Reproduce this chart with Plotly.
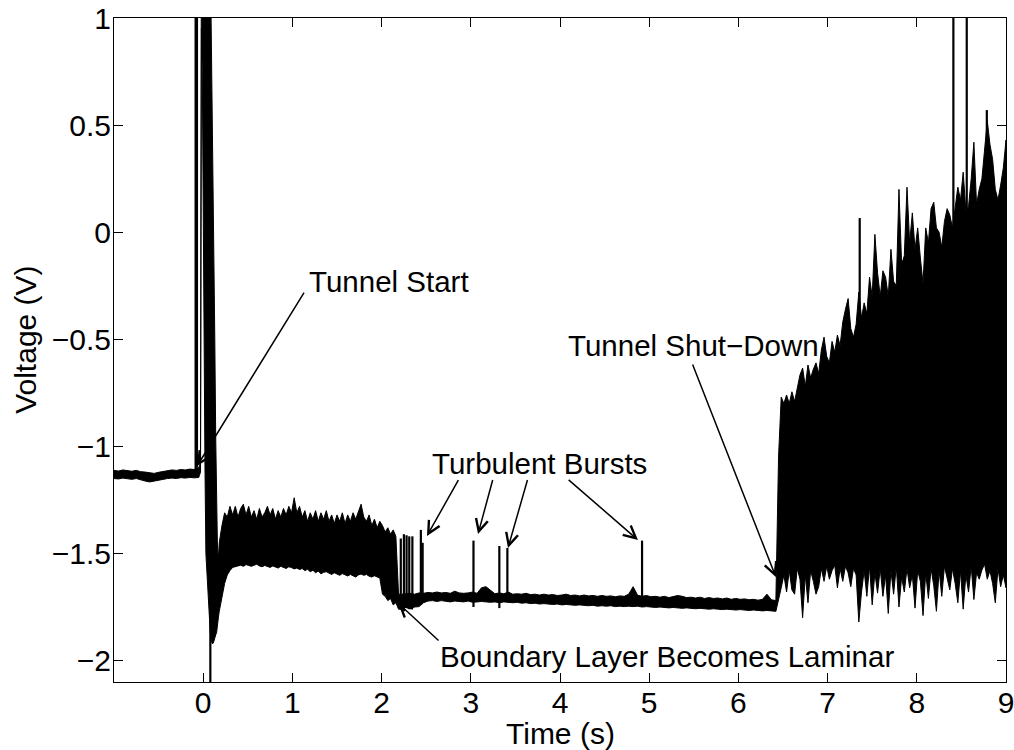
import numpy as np
import plotly.graph_objects as go

# ---------------- data ----------------
# pre-run (flat) segment, -1.00 .. -0.10 s
pre_hi = [-1.112, -1.115, -1.110, -1.113, -1.116, -1.112, -1.118, -1.120, -1.124, -1.126,
          -1.121, -1.117, -1.113, -1.110, -1.112, -1.108, -1.110, -1.106, -1.108]
pre_lo = [-1.150, -1.152, -1.148, -1.151, -1.154, -1.150, -1.156, -1.162, -1.166, -1.163,
          -1.158, -1.154, -1.150, -1.148, -1.150, -1.146, -1.148, -1.145, -1.147]

# tunnel start transient
start_t = [-0.05, -0.04, -0.03, -0.02, -0.01, 0.00, 0.01, 0.02, 0.03, 0.04, 0.05, 0.06,
           0.07, 0.08, 0.09, 0.10, 0.11, 0.12, 0.13, 0.14, 0.15, 0.16, 0.17]
start_hi = [-1.100, -1.088, -1.075, 1.5, 1.5, 1.5, 1.5, 1.5, 1.5, 1.5, 1.5, 1.5,
            1.5, 1.3, 0.95, 0.6, 0.3, 0.05, -0.5, -0.95, -1.3, -1.48, -1.52]
start_lo = [-1.145, -1.132, -1.120, 0.95, 0.75, 0.45, -0.40, -1.10, -1.50, -1.57, -1.63, -1.72,
            -1.80, -1.87, -1.90, -1.92, -1.92, -1.91, -1.90, -1.88, -1.87, -1.84, -1.80]

# turbulent boundary layer, 0.18 .. 1.98 s
turb_hi = [-1.45, -1.37, -1.31, -1.33, -1.28, -1.32, -1.28, -1.33, -1.29, -1.27,
           -1.32, -1.28, -1.33, -1.30, -1.34, -1.29, -1.33, -1.31, -1.28, -1.32,
           -1.29, -1.34, -1.30, -1.33, -1.29, -1.32, -1.28, -1.31, -1.24, -1.31,
           -1.28, -1.33, -1.30, -1.35, -1.31, -1.34, -1.30, -1.35, -1.31, -1.34,
           -1.30, -1.35, -1.32, -1.36, -1.32, -1.35, -1.31, -1.36, -1.32, -1.35,
           -1.31, -1.34, -1.30, -1.27, -1.33, -1.35, -1.32, -1.37, -1.34, -1.38,
           -1.35]
turb_lo = [-1.77, -1.70, -1.64, -1.60, -1.58, -1.565, -1.56, -1.558, -1.555, -1.56,
           -1.552, -1.556, -1.56, -1.555, -1.55, -1.558, -1.562, -1.556, -1.56, -1.565,
           -1.558, -1.562, -1.568, -1.56, -1.565, -1.57, -1.562, -1.566, -1.572, -1.568,
           -1.575, -1.57, -1.58, -1.574, -1.585, -1.578, -1.59, -1.582, -1.595, -1.588,
           -1.585, -1.592, -1.598, -1.59, -1.596, -1.602, -1.594, -1.60, -1.605, -1.598,
           -1.604, -1.61, -1.60, -1.596, -1.602, -1.598, -1.606, -1.61, -1.604, -1.61,
           -1.615]

# transition, 2.01 .. 2.19 s
trans_hi = [-1.37, -1.40, -1.38, -1.41, -1.39, -1.42, -1.69]
trans_lo = [-1.69, -1.70, -1.72, -1.71, -1.74, -1.73, -1.76]

# laminar run, 2.22 .. 6.42 s
lam_hi = [-1.690, -1.688, -1.686, -1.690, -1.684, -1.686, -1.682, -1.684, -1.680, -1.684,
          -1.682, -1.686, -1.676, -1.684, -1.686, -1.684, -1.680, -1.686, -1.660, -1.655,
          -1.670, -1.688, -1.684, -1.688, -1.680, -1.690, -1.688, -1.690, -1.686, -1.692,
          -1.690, -1.694, -1.690, -1.694, -1.692, -1.696, -1.694, -1.690, -1.696, -1.694,
          -1.698, -1.694, -1.698, -1.696, -1.700, -1.696, -1.700, -1.698, -1.702, -1.698,
          -1.700, -1.690, -1.655, -1.695, -1.700, -1.696, -1.702, -1.700, -1.704, -1.700,
          -1.706, -1.702, -1.696, -1.700, -1.706, -1.704, -1.708, -1.704, -1.710, -1.706,
          -1.710, -1.708, -1.712, -1.708, -1.714, -1.710, -1.714, -1.712, -1.716, -1.714,
          -1.718, -1.714, -1.690, -1.716, -1.720]
lam_lo = [-1.760, -1.752, -1.758, -1.750, -1.748, -1.730, -1.722, -1.720, -1.724, -1.720,
          -1.722, -1.726, -1.722, -1.724, -1.726, -1.722, -1.728, -1.726, -1.724, -1.726,
          -1.728, -1.726, -1.730, -1.726, -1.728, -1.730, -1.728, -1.732, -1.730, -1.734,
          -1.732, -1.736, -1.734, -1.736, -1.738, -1.736, -1.740, -1.738, -1.740, -1.742,
          -1.740, -1.742, -1.744, -1.742, -1.746, -1.744, -1.746, -1.744, -1.748, -1.746,
          -1.748, -1.746, -1.748, -1.746, -1.750, -1.748, -1.750, -1.752, -1.750, -1.752,
          -1.754, -1.752, -1.754, -1.756, -1.754, -1.756, -1.758, -1.756, -1.758, -1.760,
          -1.758, -1.760, -1.762, -1.760, -1.762, -1.764, -1.762, -1.764, -1.766, -1.764,
          -1.766, -1.768, -1.766, -1.768, -1.770]

# tunnel shut-down, 6.45 .. 9.00 s
shut_hi = [-1.05, -0.77, -0.80, -0.76, -0.80, -0.745, -0.79, -0.72, -0.667, -0.634,
           -0.72, -0.62, -0.68, -0.64, -0.61, -0.66, -0.55, -0.49, -0.58, -0.61,
           -0.51, -0.56, -0.48, -0.53, -0.42, -0.36, -0.31, -0.45, -0.49, -0.43,
           -0.28, -0.40, -0.33, -0.38, -0.21, -0.30, -0.01, -0.19, -0.30, -0.18,
           -0.21, -0.30, -0.08, -0.23, -0.25, 0.20, -0.15, -0.11, 0.21, -0.05,
           0.09, -0.08, 0.02, -0.12, -0.24, 0.02, -0.05, 0.11, 0.14, 0.02,
           0.00, -0.07, 0.05, 0.11, 0.08, 0.02, 0.12, 0.21, 0.15, 0.28,
           0.10, 0.12, 0.25, 0.42, 0.13, 0.20, 0.25, 0.37, 0.52, 0.41,
           0.34, 0.20, 0.15, 0.22, 0.30, 0.43]
shut_lo = [-1.72, -1.66, -1.60, -1.68, -1.58, -1.67, -1.69, -1.57, -1.62, -1.80,
           -1.60, -1.73, -1.58, -1.63, -1.69, -1.655, -1.57, -1.63, -1.56, -1.62,
           -1.58, -1.555, -1.66, -1.57, -1.63, -1.56, -1.59, -1.655, -1.57, -1.60,
           -1.82, -1.68, -1.58, -1.70, -1.56, -1.74, -1.59, -1.685, -1.57, -1.70,
           -1.60, -1.78, -1.58, -1.69, -1.56, -1.75, -1.61, -1.68, -1.57, -1.66,
           -1.60, -1.755, -1.58, -1.63, -1.79, -1.59, -1.71, -1.57, -1.65, -1.77,
           -1.58, -1.70, -1.56, -1.62, -1.67, -1.57, -1.64, -1.73, -1.58, -1.76,
           -1.60, -1.68, -1.56, -1.715, -1.59, -1.62, -1.577, -1.55, -1.62, -1.58,
           -1.64, -1.73, -1.57, -1.655, -1.60, -1.66]

# isolated spikes (time, bottom, top)
spike_t = [-0.085, -0.070, 0.080, 2.215, 2.250, 2.280, 2.310, 2.345, 2.440, 2.460,
           3.030, 3.320, 3.410, 4.920, 7.360, 8.410, 8.560, 8.785]
spike_lo = [-1.11, -1.10, -1.70, -1.76, -1.77, -1.75, -1.76, -1.74, -1.73, -1.73,
            -1.75, -1.755, -1.72, -1.74, -0.60, -0.20, -0.10, 0.30]
spike_hi = [1.30, 1.30, -2.30, -1.43, -1.41, -1.415, -1.42, -1.42, -1.39, -1.45,
            -1.44, -1.465, -1.474, -1.44, 0.066, 1.30, 1.30, 0.57]

x_ticks = [0, 1, 2, 3, 4, 5, 6, 7, 8, 9]
y_ticks = [-2, -1.5, -1, -0.5, 0, 0.5, 1]

# annotations: text, x, y (left / middle anchored)
labels = [("Tunnel Start", 1.164, -0.228),
          ("Turbulent Bursts", 2.543, -1.078),
          ("Tunnel Shut\u2212Down", 4.07, -0.527),
          ("Boundary Layer Becomes Laminar", 2.632, -1.983)]
# arrows: head x, head y, tail x, tail y
arrows = [(-0.069, -1.092, 1.141, -0.275),
          (2.509, -1.418, 2.870, -1.150),
          (3.081, -1.409, 3.250, -1.150),
          (3.417, -1.474, 3.640, -1.150),
          (4.874, -1.437, 4.080, -1.150),
          (6.420, -1.610, 5.480, -0.611),
          (2.184, -1.731, 2.655, -1.913)]

# ---------------- build figure ----------------
def grid(t0, t1, vals):
    return list(np.linspace(t0, t1, len(vals)))

up_t = (grid(-1.0, -0.10, pre_hi) + start_t + grid(0.18, 1.98, turb_hi)
        + grid(2.01, 2.19, trans_hi) + grid(2.22, 6.42, lam_hi) + grid(6.45, 9.0, shut_hi))
up_v = pre_hi + start_hi + turb_hi + trans_hi + lam_hi + shut_hi
lo_t = (grid(-1.0, -0.10, pre_lo) + start_t + grid(0.18, 1.98, turb_lo)
        + grid(2.01, 2.19, trans_lo) + grid(2.22, 6.42, lam_lo) + grid(6.45, 9.0, shut_lo))
lo_v = pre_lo + start_lo + turb_lo + trans_lo + lam_lo + shut_lo

poly_x = up_t + lo_t[::-1]
poly_y = up_v + lo_v[::-1]

fig = go.Figure()
fig.add_trace(go.Scatter(x=poly_x, y=poly_y, mode="lines", fill="toself",
                         fillcolor="black", line=dict(color="black", width=1),
                         hoverinfo="skip", showlegend=False))

sx, sy = [], []
for t, a, b in zip(spike_t, spike_lo, spike_hi):
    sx += [t, t, None]
    sy += [a, b, None]
fig.add_trace(go.Scatter(x=sx, y=sy, mode="lines", line=dict(color="black", width=2.2),
                         hoverinfo="skip", showlegend=False))

FONT = "Liberation Sans, Arial, Helvetica, sans-serif"
FS = 30
FA = 29.5
ann = []
for txt, x, y in labels:
    ann.append(dict(text=txt, x=x, y=y, xref="x", yref="y", showarrow=False,
                    xanchor="left", yanchor="middle",
                    font=dict(family=FONT, size=FA, color="black")))
for hx, hy, tx, ty in arrows:
    ann.append(dict(text="", x=hx, y=hy, ax=tx, ay=ty, xref="x", yref="y",
                    axref="x", ayref="y", showarrow=True, arrowhead=5,
                    arrowsize=1.6, arrowwidth=1.5, arrowcolor="black"))
ann.append(dict(text="Time (s)", x=0.5, y=-0.077, xref="paper", yref="paper",
                showarrow=False, xanchor="center", yanchor="middle",
                font=dict(family=FONT, size=FS, color="black")))
ann.append(dict(text="Voltage (V)", x=-0.1, y=0.515, xref="paper", yref="paper",
                showarrow=False, xanchor="center", yanchor="middle", textangle=-90,
                font=dict(family=FONT, size=FS, color="black")))

axis_common = dict(showline=True, linecolor="black", linewidth=1, mirror="ticks",
                   ticks="inside", ticklen=9, tickwidth=1, tickcolor="black",
                   showgrid=False, zeroline=False, automargin=False,
                   ticklabeloverflow="allow",
                   tickfont=dict(family=FONT, size=FS, color="black"))
fig.update_layout(
    width=1014, height=750, autosize=False,
    margin=dict(l=114, r=8, t=18, b=68, autoexpand=False),
    paper_bgcolor="white", plot_bgcolor="white",
    xaxis=dict(range=[-1, 9], tickmode="array", tickvals=x_ticks,
               ticklabelstandoff=-6, **axis_common),
    yaxis=dict(range=[-2.1, 1], tickmode="array", tickvals=y_ticks,
               ticklabelstandoff=-4, **axis_common),
    annotations=ann, showlegend=False,
)
fig.write_html("out.html", config={"displayModeBar": False})
